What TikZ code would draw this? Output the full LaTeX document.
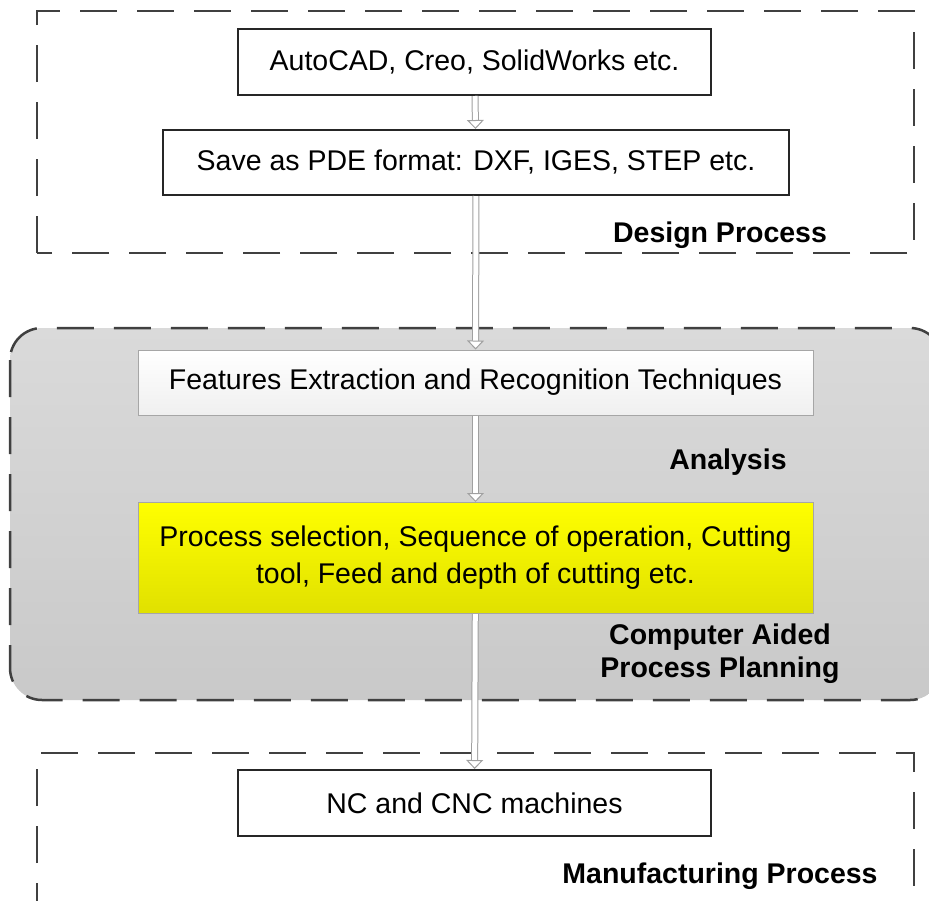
\documentclass[tikz,border=0pt]{standalone}
\usepackage{fontspec}
\setmainfont{Liberation Sans}
\usepackage{tikz}
\usetikzlibrary{shapes.geometric}
\usetikzlibrary{positioning}
\usetikzlibrary{arrows.meta}

\definecolor{edgegray}{HTML}{404040}
\definecolor{arrowgray}{HTML}{A0A0A0}
\definecolor{panetop}{HTML}{DADADA}
\definecolor{panebot}{HTML}{C9C9C9}

\begin{document}
\begin{tikzpicture}[x=1pt,y=-1pt,
	every node/.style={font=\fontsize{28.5}{34}\selectfont},
	main node/.style={rectangle,draw=black!85,line width=2pt,inner sep=0pt},
	soft node/.style={rectangle,draw=gray!70,line width=1pt,inner sep=0pt},
	group/.style={draw=edgegray,line width=2.5pt,dash pattern=on 37pt off 20pt},
	tag/.style={font=\fontsize{28.5}{33}\selectfont\bfseries,align=center},
	flow/.style={draw=arrowgray,line width=1pt,double=white,double distance=5pt,
		-{Triangle[fill=white,length=9pt,width=17pt,line width=1pt]}}]
	
	\useasboundingbox (0,0) rectangle (929,900);
	
	% groups
	\draw[group] (37,253) -- (37,11) -- (914,11) -- (914,253) -- cycle;
	\draw[group,rounded corners=32pt,top color=panetop,bottom color=panebot]
	(10,328) rectangle (942,700);
	\draw[group] (37,920) -- (37,753) -- (914,753) -- (914,920);
	
	% steps
	\node[main node,minimum width=473pt,minimum height=66pt] (cad) at (474.5,62)
	{\raisebox{-2pt}{AutoCAD, Creo, SolidWorks etc.}};
	\node[main node,minimum width=626pt,minimum height=65pt] (pde) at (476,162.5)
	{\raisebox{-2pt}{Save as PDE format: DXF, IGES, STEP etc.}};
	\node[soft node,minimum width=675pt,minimum height=65pt,
	top color=white,bottom color=gray!12] (fer) at (475.5,382.5)
	{\raisebox{-2pt}{Features Extraction and Recognition Techniques}};
	\node[soft node,minimum width=675pt,minimum height=111pt,align=center,
	font=\fontsize{28.5}{37}\selectfont,
	top color=yellow,bottom color=yellow!88!black] (sel) at (475.5,558)
	{Process selection, Sequence of operation, Cutting\\tool, Feed and depth of cutting etc.};
	\node[main node,minimum width=473pt,minimum height=66pt] (cnc) at (474.5,803)
	{\raisebox{-2pt}{NC and CNC machines}};
	
	% group labels
	\node[tag] (design) at (720,235) {Design Process};
	\node[tag] (analysis) at (728,462) {Analysis};
	\node[tag] (capp) at (720,654) {Computer Aided\\Process Planning};
	\node[tag] (manuf) at (720,876) {Manufacturing Process};
	
	\path
	(cad) edge [flow] (pde)
	(pde) edge [flow] (fer)
	(fer) edge [flow] (sel)
	(sel) edge [flow] (cnc);
\end{tikzpicture}
\end{document}
